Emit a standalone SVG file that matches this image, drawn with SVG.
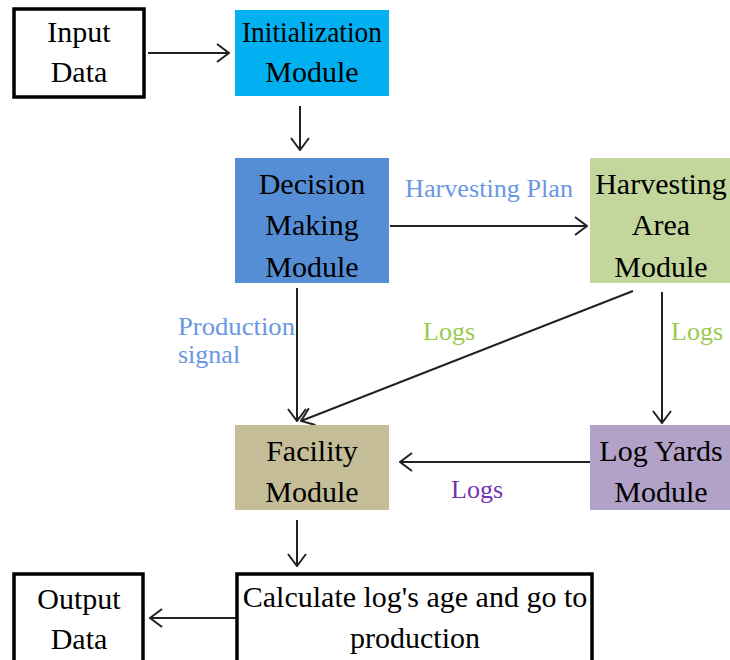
<svg xmlns="http://www.w3.org/2000/svg" width="730" height="660" viewBox="0 0 730 660">
  <style>
    .box text { font-family: "Liberation Serif", "Times New Roman", serif; font-size: 30px; fill: #000; text-anchor: middle; }
    .lbl { font-family: "Liberation Serif", "Times New Roman", serif; font-size: 26px; }
    .mid { text-anchor: middle; }
    .blue { fill: #6A97E2; }
    .green { fill: #9ACB50; }
    .purple { fill: #7534B0; }
    .conn line { stroke: #222; stroke-width: 2; fill: none; marker-end: url(#arrow); }
    .plain { fill: #fff; stroke: #000; stroke-width: 3.5; }
  </style>
  <defs>
    <marker id="arrow" viewBox="0 0 14 20" refX="13" refY="10" markerWidth="14" markerHeight="20" markerUnits="userSpaceOnUse" orient="auto">
      <path d="M1 1 L13 10 L1 19" fill="none" stroke="#222" stroke-width="2"/>
    </marker>
  </defs>

  <rect width="730" height="660" fill="#fff"/>

  <g class="conn" id="connectors">
    <line x1="148" y1="53" x2="229" y2="53"/>
    <line x1="300" y1="106" x2="300" y2="150"/>
    <line x1="390" y1="226" x2="587" y2="226"/>
    <line x1="297" y1="288" x2="297" y2="421"/>
    <line x1="633" y1="291" x2="301" y2="421"/>
    <line x1="662" y1="292" x2="662" y2="423"/>
    <line x1="590" y1="462" x2="400" y2="462"/>
    <line x1="297" y1="520" x2="297" y2="566"/>
    <line x1="236" y1="618" x2="150" y2="618"/>
  </g>

  <g class="labels">
    <text class="lbl blue" x="405" y="197" textLength="168" lengthAdjust="spacingAndGlyphs">Harvesting Plan</text>
    <text class="lbl blue" x="178" y="335" textLength="117" lengthAdjust="spacingAndGlyphs">Production</text>
    <text class="lbl blue" x="178" y="363">signal</text>
    <text class="lbl green mid" x="449" y="340">Logs</text>
    <text class="lbl green mid" x="697" y="340">Logs</text>
    <text class="lbl purple mid" x="477" y="498">Logs</text>
  </g>

  <g class="box" id="input-data">
    <rect class="plain" x="14" y="9" width="130" height="88"/>
    <text x="79" y="42">Input</text>
    <text x="79" y="82">Data</text>
  </g>

  <g class="box" id="initialization-module">
    <rect x="235" y="10" width="154" height="86" fill="#00B0F0"/>
    <text x="312" y="42" textLength="140" lengthAdjust="spacingAndGlyphs">Initialization</text>
    <text x="312" y="82">Module</text>
  </g>

  <g class="box" id="decision-making-module">
    <rect x="235" y="158" width="154" height="125" fill="#558ED5"/>
    <text x="312" y="194">Decision</text>
    <text x="312" y="235">Making</text>
    <text x="312" y="277">Module</text>
  </g>

  <g class="box" id="harvesting-area-module">
    <rect x="590" y="158" width="140" height="125" fill="#C3D69B"/>
    <text x="661" y="194">Harvesting</text>
    <text x="661" y="235">Area</text>
    <text x="661" y="277">Module</text>
  </g>

  <g class="box" id="facility-module">
    <rect x="235" y="425" width="154" height="85" fill="#C4BD97"/>
    <text x="312" y="461">Facility</text>
    <text x="312" y="502">Module</text>
  </g>

  <g class="box" id="log-yards-module">
    <rect x="590" y="425" width="140" height="85" fill="#B3A2C7"/>
    <text x="661" y="461">Log Yards</text>
    <text x="661" y="502">Module</text>
  </g>

  <g class="box" id="calculate-age">
    <rect class="plain" x="237" y="574" width="355" height="95"/>
    <text x="415" y="607">Calculate log's age and go to</text>
    <text x="415" y="648">production</text>
  </g>

  <g class="box" id="output-data">
    <rect class="plain" x="14" y="574" width="129" height="95"/>
    <text x="79" y="609">Output</text>
    <text x="79" y="649">Data</text>
  </g>
</svg>
